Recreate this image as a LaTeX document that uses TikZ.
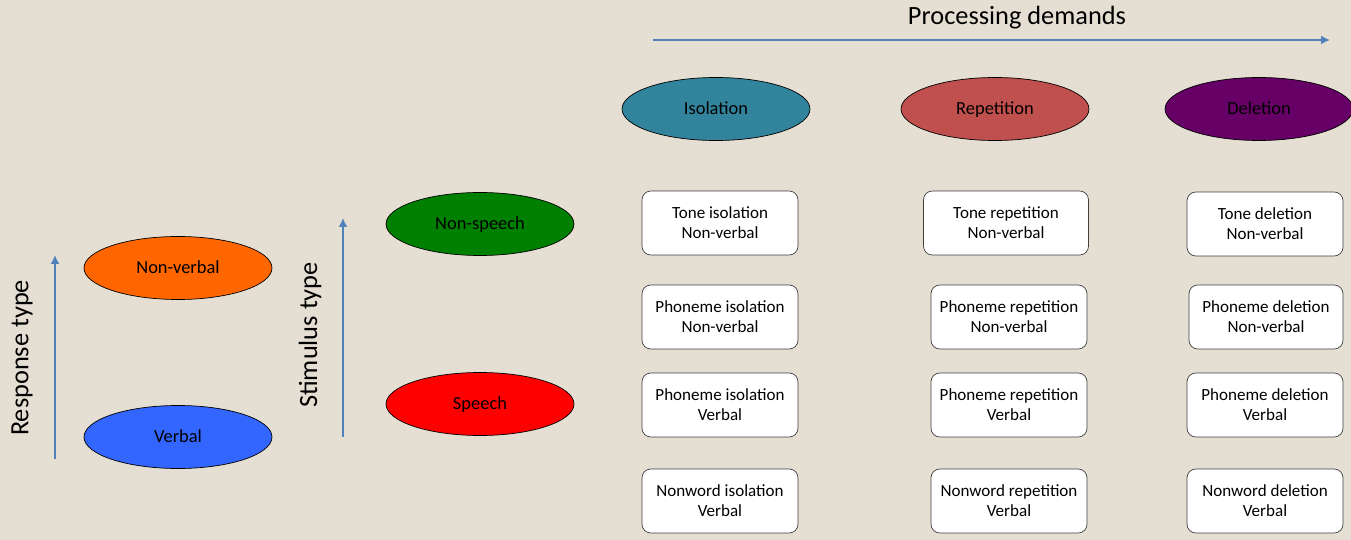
\documentclass[tikz,border=0pt]{standalone}
\usepackage{fontspec}
\setmainfont{Carlito}
\usetikzlibrary{shapes.geometric,arrows.meta}

\definecolor{paper}{RGB}{229,223,211}
\definecolor{axisblue}{RGB}{79,129,189}
\definecolor{isocol}{RGB}{49,132,155}
\definecolor{repcol}{RGB}{192,80,77}
\definecolor{delcol}{RGB}{102,0,102}
\definecolor{nvcol}{RGB}{255,102,0}
\definecolor{vcol}{RGB}{51,102,255}
\definecolor{nscol}{RGB}{0,128,0}
\definecolor{spcol}{RGB}{255,0,0}

\tikzset{
  blob/.style={draw=black, ellipse, minimum width=3.76cm, minimum height=1.26cm, text height=1.6ex, text depth=0.4ex, font=\fontsize{10.5}{12}\selectfont},
  task/.style={draw=black!75, fill=white, rounded corners=5pt, minimum width=3.12cm, minimum height=1.28cm, align=center, font=\fontsize{9.7}{11.3}\selectfont},
  axis/.style={draw=axisblue, line width=1.2pt, -{Latex[length=5pt,width=5pt]}},
  axislabel/.style={font=\fontsize{15}{18}\selectfont}
}

\begin{document}
\begin{tikzpicture}[x=0.02cm, y=-0.02cm]
            \fill[paper] (0,0) rectangle (1351,540);
            \useasboundingbox (0,0) rectangle (1351,540);

            % processing demands axis
            \node[axislabel] (plabel) at (1017,18) {Processing demands};
            \coordinate (pa) at (653,40);
            \coordinate (pb) at (1330,40);
            \draw[axis] (pa) -- (pb);

            \node[blob, fill=isocol] (iso) at (716,109) {Isolation};
            \node[blob, fill=repcol] (rep) at (995,109) {Repetition};
            \node[blob, fill=delcol] (del) at (1259,109) {Deletion};

            % response type axis
            \node[axislabel, rotate=90] (rlabel) at (22,358) {Response type};
            \coordinate (ra) at (55,459);
            \coordinate (rb) at (55,255);
            \draw[axis] (ra) -- (rb);

            \node[blob, fill=nvcol] (nverb) at (178,268) {Non-verbal};
            \node[blob, fill=vcol] (verb) at (178,437) {Verbal};

            % stimulus type axis
            \node[axislabel, rotate=90] (slabel) at (310,335) {Stimulus type};
            \coordinate (sa) at (343,437);
            \coordinate (sb) at (343,218);
            \draw[axis] (sa) -- (sb);

            \node[blob, fill=nscol] (nspeech) at (480,224) {Non-speech};
            \node[blob, fill=spcol] (speech) at (480,404) {Speech};

            % tasks
            \node[task] (toneiso) at (720,223) {Tone isolation\\Non-verbal};
            \node[task] (phoniso) at (720,317) {Phoneme isolation\\Non-verbal};
            \node[task] (phonisov) at (720,405) {Phoneme isolation\\Verbal};
            \node[task] (nwiso) at (720,501) {Nonword isolation\\Verbal};

            \node[task, minimum width=3.3cm] (tonerep) at (1006,223) {Tone repetition\\Non-verbal};
            \node[task] (phonrep) at (1009,317) {Phoneme repetition\\Non-verbal};
            \node[task] (phonrepv) at (1009,405) {Phoneme repetition\\Verbal};
            \node[task] (nwrep) at (1009,501) {Nonword repetition\\Verbal};

            \node[task] (tonedel) at (1265,224) {Tone deletion\\Non-verbal};
            \node[task, minimum width=3.08cm] (phondel) at (1266,317) {Phoneme deletion\\Non-verbal};
            \node[task] (phondelv) at (1265,405) {Phoneme deletion\\Verbal};
            \node[task] (nwdel) at (1265,501) {Nonword deletion\\Verbal};
          \end{tikzpicture}
\end{document}
